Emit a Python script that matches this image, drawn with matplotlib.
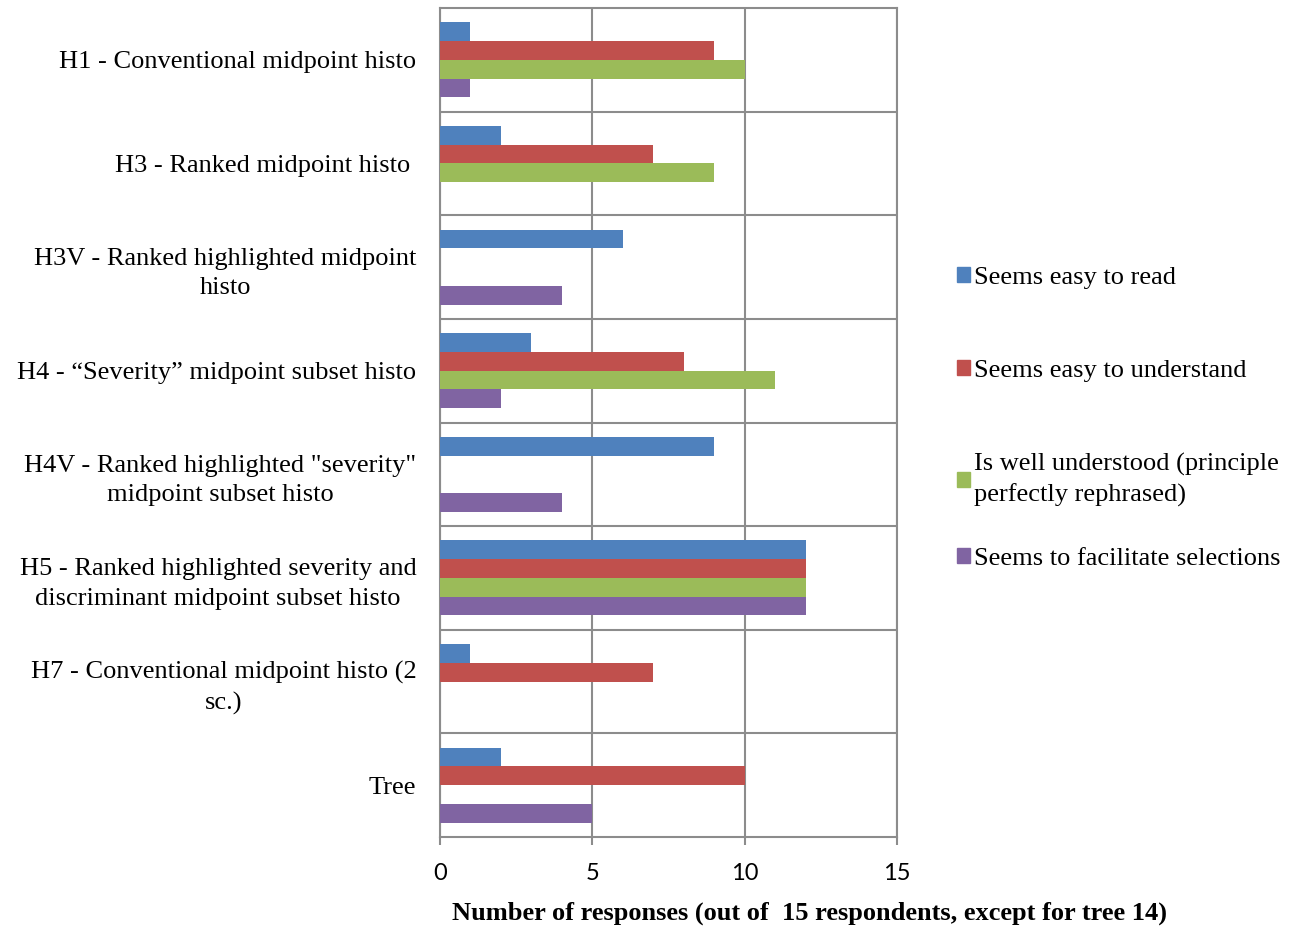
import matplotlib
matplotlib.use("Agg")
import matplotlib.pyplot as plt
from matplotlib.patches import Patch
import numpy as np

categories = [
    "H1 - Conventional midpoint histo",
    "H3 - Ranked midpoint histo ",
    "H3V - Ranked highlighted midpoint\nhisto",
    "H4 - \u201cSeverity\u201d midpoint subset histo",
    "H4V - Ranked highlighted \"severity\"\nmidpoint subset histo",
    "H5 - Ranked highlighted severity and\ndiscriminant midpoint subset histo",
    "H7 - Conventional midpoint histo (2\nsc.)",
    "Tree",
]
series_names = [
    "Seems easy to read",
    "Seems easy to understand",
    "Is well understood (principle\nperfectly rephrased)",
    "Seems to facilitate selections",
]
easy_read = [1, 2, 6, 3, 9, 12, 1, 2]
easy_understand = [9, 7, 0, 8, 0, 12, 7, 10]
well_understood = [10, 9, 0, 11, 0, 12, 0, 0]
facilitate = [1, 0, 4, 2, 4, 12, 0, 5]
colors = ["#4F81BD", "#C0504D", "#9BBB59", "#8064A2"]

serif = "Liberation Serif"
grid_col = "#8c8c8c"
fs = 19

fig = plt.figure(figsize=(12.93, 9.27), dpi=100)
ax = fig.add_axes([440/1293, 1-837/927, (897-440)/1293, (837-8)/927])

y = np.arange(len(categories))
w = 0.181
all_vals = [easy_read, easy_understand, well_understood, facilitate]
for k, vals in enumerate(all_vals):
    ax.barh(y + (k - 1.5)*w, vals, height=w, color=colors[k], zorder=3)

ax.set_xlim(0, 15)
ax.set_ylim(len(categories) - 0.5, -0.5)
ax.set_xticks([0, 5, 10, 15])
ax.set_yticks(y)
ax.set_yticklabels(categories, fontfamily=serif, fontsize=fs, multialignment="center")
for lab in ax.get_yticklabels():
    lab.set_linespacing(1.45)
ax.set_yticks(np.arange(0.5, len(categories) - 0.5, 1), minor=True)
ax.tick_params(axis="y", which="both", length=0, pad=17)
ax.tick_params(axis="x", length=6, width=1.5, color=grid_col, pad=13, labelsize=17)
for lab in ax.get_xticklabels():
    lab.set_fontfamily("Lato")
ax.grid(axis="x", color=grid_col, lw=1.5, zorder=1)
ax.grid(axis="y", which="minor", color=grid_col, lw=1.5, zorder=1)
for s in ax.spines.values():
    s.set_color(grid_col)
    s.set_linewidth(1.5)

fig.text(810/1293, 1-913/927, "Number of responses (out of  15 respondents, except for tree 14)",
         ha="center", va="center", fontfamily=serif, fontsize=fs, fontweight="bold")

legend_y = [278, 371, 480, 559]
for k in range(4):
    lg = fig.legend(handles=[Patch(color=colors[k])], labels=[series_names[k]],
                    loc="center left", bbox_to_anchor=(957/1293, 1-legend_y[k]/927),
                    frameon=False, prop={"family": serif, "size": fs},
                    handlelength=0.5, handleheight=0.5, handletextpad=0.15,
                    borderpad=0, borderaxespad=0)
    for t in lg.get_texts():
        t.set_linespacing(1.45)

fig.savefig("out.png", dpi=100)
